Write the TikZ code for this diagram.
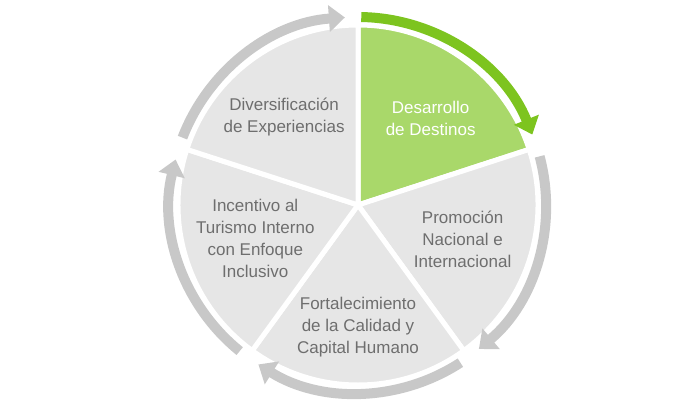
\documentclass[tikz,border=0pt]{standalone}
\usepackage{fontspec}
\setmainfont{Liberation Sans}
\usetikzlibrary{calc}
\usetikzlibrary{arrows.meta}
\definecolor{sectorgray}{HTML}{E6E6E6}
\definecolor{sectorgreen}{HTML}{A9D86A}
\definecolor{ringgray}{HTML}{C8C8C8}
\definecolor{ringgreen}{HTML}{7DC41F}
\definecolor{labelgray}{HTML}{6E6E6E}
\tikzset{
  sector/.style={fill=sectorgray, draw=white, line width=5pt, line join=round},
  ring/.style={line width=10pt, ringgray, -{Triangle[length=16pt,width=26pt]}},
  label/.style={font=\fontsize{17}{22}\selectfont, text=labelgray, align=center}
}
\begin{document}
\begin{tikzpicture}[x=1pt, y=1pt]
  \useasboundingbox (0,0) rectangle (700,400);
  \coordinate (O) at (358,195);
  % sectors, clockwise from the top
  \foreach \a/\c in {90/sectorgreen, 18/sectorgray, -54/sectorgray, -126/sectorgray, 162/sectorgray} {
    \filldraw[sector, fill=\c] (O) -- ++(\a:180) arc (\a:\a-72:180) -- cycle;
  }
  % ring arrows
  \foreach \a in {18, -54, -126, 162} {
    \draw[ring] ($(O)+(\a-3:188)$) arc (\a-3:\a-68:188);
  }
  \draw[ring, ringgreen] ($(O)+(89:188)$) arc (89:22:188);
  % labels
  \node[label, text=white] (dd) at ($(O)+(50:113)$) {Desarrollo\\de Destinos};
  \node[label] (pn) at ($(O)+(-18:110)$) {Promoción\\Nacional e\\Internacional};
  \node[label] (fc) at ($(O)+(-90:122)$) {Fortalecimiento\\de la Calidad y\\Capital Humano};
  \node[label] (it) at ($(O)+(-162:108)$) {Incentivo al\\Turismo Interno\\con Enfoque\\Inclusivo};
  \node[label] (de) at ($(O)+(130:115)$) {Diversificación\\de Experiencias};
\end{tikzpicture}
\end{document}
